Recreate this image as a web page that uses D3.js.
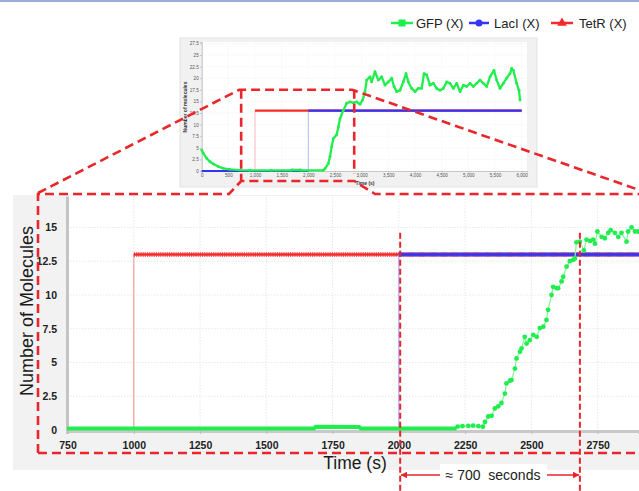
<!DOCTYPE html>
<html>
<head>
<meta charset="utf-8">
<script src="https://cdn.jsdelivr.net/npm/d3@7"></script>
<style>
  body { margin: 0; background: #fff; }
  svg { display: block; font-family: Arial, "Liberation Sans", sans-serif; }
</style>
</head>
<body>
<svg id="chart" width="639" height="491"></svg>
<script>
"use strict";

// ---- data ----
const seriesNames  = ["GFP (X)", "LacI (X)", "TetR (X)"];
const seriesColors = ["#1fee4c", "#3434f6", "#f62a2a"];

const tetrSteps = [[0, 0], [1000, 0], [1000, 13], [6000, 13]];
const laciSteps = [[0, 0], [2000, 0], [2000, 13], [6000, 13]];

// whole run, 0..6000 s (small inset)
const gfpFull = [[0,4.5],[30,3.8],[95,2.7],[155,2.0],[220,1.5],[310,0.95],[405,0.57],[530,0.36],[720,0.2],
  [900,0.15],[1300,0.15],[1680,0.15],[1700,0.25],[1850,0.22],[1870,0.15],[2280,0.15],[2312,0.5],[2375,1.6],
  [2406,3.1],[2437,5.2],[2469,7.0],[2531,7.8],[2562,9.5],[2594,11.3],[2656,13.1],[2719,14.6],[2781,14.9],
  [2844,14.7],[2906,14.9],[2969,14.4],[3019,15.3],[3062,17.1],[3094,19.6],[3156,20.3],[3187,19.2],[3250,21.4],
  [3312,19.6],[3375,20.3],[3437,18.5],[3500,19.2],[3562,20.0],[3606,18.2],[3656,17.1],[3719,17.4],[3781,19.2],
  [3831,21.0],[3875,19.2],[3937,17.8],[4000,17.1],[4062,17.8],[4125,17.8],[4169,21.0],[4219,20.7],[4281,18.5],
  [4344,18.9],[4406,17.8],[4469,17.4],[4531,17.8],[4594,19.2],[4656,18.9],[4719,17.8],[4781,18.9],[4844,17.1],
  [4906,18.5],[4969,18.2],[5031,18.9],[5094,18.2],[5156,18.9],[5219,19.6],[5281,18.9],[5344,18.2],[5406,20.3],
  [5481,21.7],[5531,19.6],[5594,17.8],[5656,18.9],[5719,20.0],[5781,21.0],[5812,22.1],[5844,21.7],[5906,18.9],
  [5950,17.4],[5969,15.3]];

// zoomed window: flat baseline, then the rise
const gfpZoomBase = [[740,0.12],[1680,0.12],[1686,0.24],[1850,0.22],[1856,0.12],[2218,0.12]];
const gfpZoomRise = [[2222,0.25],[2240,0.28],[2262,0.3],[2280,0.32],[2300,0.28],[2317,0.24],[2325,0.6],
  [2337,1.0],[2350,1.05],[2362,1.6],[2375,1.75],[2387,2.0],[2400,2.7],[2406,3.45],[2419,3.65],[2425,3.7],
  [2438,4.55],[2444,5.3],[2457,5.8],[2463,6.05],[2475,6.9],[2482,6.4],[2494,6.65],[2507,7.05],[2520,6.9],
  [2532,7.55],[2545,7.65],[2557,8.15],[2563,8.9],[2576,10.0],[2582,10.6],[2595,10.5],[2601,10.5],[2614,11.0],
  [2620,11.35],[2633,12.1],[2645,12.5],[2658,12.6],[2664,12.7],[2670,13.9],[2683,13.95],[2698,13.3],[2708,14.1],
  [2721,14.0],[2733,14.1],[2740,13.8],[2749,14.7],[2765,14.3],[2777,14.2],[2790,14.6],[2799,14.8],[2815,14.6],
  [2828,14.3],[2840,14.6],[2859,13.95],[2865,14.7],[2878,15.0],[2891,14.7],[2903,14.7]];

const zoomTicksX = [750, 1000, 1250, 1500, 1750, 2000, 2250, 2500, 2750];
const zoomTicksY = [0, 2.5, 5, 7.5, 10, 12.5, 15];
const fullTicksX = [0, 500, 1000, 1500, 2000, 2500, 3000, 3500, 4000, 4500, 5000, 5500, 6000];
const fullTicksY = [0, 2.5, 5, 7.5, 10, 12.5, 15, 17.5, 20, 22.5, 25, 27.5];
const delayMarks = [2005, 2683];
const delayLabel = "\u2248 700  seconds";

const svg = d3.select("#chart");
const [cGfp, cLac, cTet] = seriesColors;
const dashRed = "#e8262c";
const plain = d => String(d);

// top rule
svg.append("line").attr("x1", 0).attr("x2", 639).attr("y1", 1).attr("y2", 1)
  .attr("stroke", "#7d90c8").attr("stroke-width", 1.6);

// ---- legend ----
const leg = svg.append("g").attr("font-size", 13).attr("fill", "#222");
const legItems = [
  {x: 391, w: 22, tx: 416, shape: "square"},
  {x: 469, w: 20, tx: 494, shape: "circle"},
  {x: 551, w: 22, tx: 579, shape: "triangle"}
];
legItems.forEach((it, i) => {
  const cy = 23, col = seriesColors[i], cx = it.x + it.w / 2;
  leg.append("line").attr("x1", it.x).attr("x2", it.x + it.w).attr("y1", cy).attr("y2", cy)
    .attr("stroke", col).attr("stroke-width", 2.5);
  if (it.shape === "square")
    leg.append("rect").attr("x", cx - 3.5).attr("y", cy - 3.5).attr("width", 7).attr("height", 7).attr("fill", col);
  else if (it.shape === "circle")
    leg.append("circle").attr("cx", cx).attr("cy", cy).attr("r", 3.5).attr("fill", col);
  else
    leg.append("path").attr("d", d3.symbol(d3.symbolTriangle, 40)()).attr("transform", `translate(${cx},${cy})`).attr("fill", col);
  leg.append("text").attr("x", it.tx).attr("y", cy + 5).text(seriesNames[i]);
});

// ---- inset: full run ----
const xF = d3.scaleLinear().domain([0, 6100]).range([201.7, 527]);
const yF = d3.scaleLinear().domain([0, 27.8]).range([171, 42]);

svg.append("rect").attr("x", 180).attr("y", 38).attr("width", 357).attr("height", 149)
  .attr("fill", "#f1f1f1").attr("stroke", "#e2e2e2");
svg.append("rect").attr("x", 201.7).attr("y", 42).attr("width", 325.3).attr("height", 129).attr("fill", "#fff");

const inset = svg.append("g");
inset.append("g").selectAll("line").data(fullTicksY.slice(1)).join("line")
  .attr("x1", 201.7).attr("x2", 527).attr("y1", d => yF(d)).attr("y2", d => yF(d))
  .attr("stroke", "#ececec").attr("stroke-width", 0.6).attr("stroke-dasharray", "1,1");
inset.append("g").selectAll("line").data(fullTicksX.slice(1)).join("line")
  .attr("x1", d => xF(d)).attr("x2", d => xF(d)).attr("y1", 42).attr("y2", 171)
  .attr("stroke", "#ececec").attr("stroke-width", 0.6).attr("stroke-dasharray", "1,1");

const axF = inset.append("g").attr("transform", "translate(0,171)")
  .call(d3.axisBottom(xF).tickValues(fullTicksX).tickFormat(d3.format(",")).tickSize(1.5).tickPadding(1.5));
const ayF = inset.append("g").attr("transform", "translate(201.7,0)")
  .call(d3.axisLeft(yF).tickValues(fullTicksY).tickFormat(plain).tickSize(1.5).tickPadding(1.5));
[axF, ayF].forEach(a => {
  a.select(".domain").attr("stroke", "#c6c6c6").attr("stroke-width", 1.2);
  a.selectAll(".tick line").attr("stroke", "#bbb");
  a.selectAll("text").attr("font-size", 4.6).attr("fill", "#555").attr("font-family", "Arial");
});
inset.append("text").attr("x", 365).attr("y", 184.5).attr("text-anchor", "middle")
  .attr("font-size", 5).attr("font-weight", "bold").attr("fill", "#333").text("Time (s)");
inset.append("text").attr("transform", "translate(187,107) rotate(-90)").attr("text-anchor", "middle")
  .attr("font-size", 5).attr("font-weight", "bold").attr("fill", "#333").text("Number of molecules");

const lineF = d3.line().x(d => xF(d[0])).y(d => yF(d[1]));
// faint step risers
[[tetrSteps, "#f7a9a9"], [laciSteps, "#aaaaf4"]].forEach(([s, c]) => {
  inset.append("path").attr("d", lineF(s.slice(1, 3))).attr("stroke", c).attr("stroke-width", 0.8).attr("fill", "none");
});
inset.append("path").attr("d", lineF(tetrSteps.slice(2))).attr("stroke", cTet).attr("stroke-width", 2.2).attr("fill", "none");
inset.append("path").attr("d", lineF(laciSteps.slice(0, 2))).attr("stroke", cLac).attr("stroke-width", 2.2).attr("fill", "none");
inset.append("path").attr("d", lineF(laciSteps.slice(2))).attr("stroke", cLac).attr("stroke-width", 2.2).attr("fill", "none");
inset.append("path").attr("d", lineF(gfpFull)).attr("stroke", cGfp).attr("stroke-width", 2.3).attr("fill", "none")
  .attr("stroke-linejoin", "round");
inset.append("g").selectAll("circle").data(gfpFull).join("circle")
  .attr("cx", d => xF(d[0])).attr("cy", d => yF(d[1])).attr("r", 1.4).attr("fill", cGfp);

// ---- main: zoomed window ----
const xZ = d3.scaleLinear().domain([748, 2906]).range([67, 639]);
const yZ = d3.scaleLinear().domain([0, 17.33]).range([430, 196]);

svg.append("rect").attr("x", 13).attr("y", 195).attr("width", 626).attr("height", 275).attr("fill", "#f2f2f2");
svg.append("rect").attr("x", 67).attr("y", 196).attr("width", 572).attr("height", 234).attr("fill", "#fff");
svg.append("clipPath").attr("id", "clipZ").append("rect").attr("x", 67).attr("y", 190).attr("width", 572).attr("height", 242);

const main = svg.append("g");
main.append("g").selectAll("line").data(zoomTicksY.slice(1)).join("line")
  .attr("x1", 67).attr("x2", 639).attr("y1", d => yZ(d)).attr("y2", d => yZ(d))
  .attr("stroke", "#e8e8e8").attr("stroke-dasharray", "1.5,1.5");
main.append("g").selectAll("line").data(zoomTicksX.slice(1)).join("line")
  .attr("x1", d => xZ(d)).attr("x2", d => xZ(d)).attr("y1", 196).attr("y2", 430)
  .attr("stroke", "#e8e8e8").attr("stroke-dasharray", "1.5,1.5");

const axZ = main.append("g").attr("transform", "translate(0,431)")
  .call(d3.axisBottom(xZ).tickValues(zoomTicksX).tickFormat(plain).tickSize(3).tickPadding(8));
const ayZ = main.append("g").attr("transform", "translate(67,0)")
  .call(d3.axisLeft(yZ).tickValues(zoomTicksY).tickFormat(plain).tickSize(0).tickPadding(10));
axZ.select(".domain").attr("stroke", "#c9c9c9").attr("stroke-width", 3);
ayZ.select(".domain").attr("stroke", "#c4c4c4").attr("stroke-width", 3);
[axZ, ayZ].forEach(a => {
  a.selectAll(".tick line").attr("stroke", "#bbb");
  a.selectAll("text").attr("font-size", 10.5).attr("font-weight", "bold").attr("fill", "#222").attr("font-family", "Arial");
});

main.append("text").attr("x", 355).attr("y", 469).attr("text-anchor", "middle")
  .attr("font-size", 17.5).attr("fill", "#1a1a1a").text("Time (s)");
main.append("text").attr("transform", "translate(33,311) rotate(-90)").attr("text-anchor", "middle")
  .attr("font-size", 18).attr("fill", "#1a1a1a").text("Number of Molecules");

const plot = main.append("g").attr("clip-path", "url(#clipZ)");
const lineZ = d3.line().x(d => xZ(d[0])).y(d => yZ(d[1]));

// TetR then LacI: faint riser + dense marker band on the high level
[[tetrSteps, cTet, "#f7a3a3"], [laciSteps, cLac, "#a9a9f6"]].forEach(([s, c, faint]) => {
  plot.append("path").attr("d", lineZ(s.slice(1, 3))).attr("stroke", faint).attr("stroke-width", 1.3).attr("fill", "none");
  plot.append("path").attr("d", lineZ(s.slice(2))).attr("stroke", c).attr("stroke-width", 2.6).attr("fill", "none");
  plot.append("path").attr("d", lineZ(s.slice(2))).attr("stroke", c).attr("stroke-width", 5)
    .attr("stroke-dasharray", "1.2,1").attr("opacity", 0.7).attr("fill", "none");
});

// GFP
plot.append("path").attr("d", lineZ(gfpZoomBase)).attr("stroke", cGfp).attr("stroke-width", 4).attr("fill", "none");
plot.append("path").attr("d", lineZ([gfpZoomBase[gfpZoomBase.length - 1], ...gfpZoomRise]))
  .attr("stroke", "#7ef59a").attr("stroke-width", 1.2).attr("fill", "none");
plot.append("g").selectAll("circle").data(gfpZoomRise).join("circle")
  .attr("cx", d => xZ(d[0])).attr("cy", d => yZ(d[1])).attr("r", 2.4).attr("fill", cGfp);

// ---- red dashed zoom callout ----
const ann = svg.append("g").attr("fill", "none").attr("stroke", dashRed).attr("stroke-width", 2.6)
  .attr("stroke-dasharray", "9,5");
const xL = xF(740), xR = xF(2860), yTop = yF(17.5);
ann.append("path").attr("d", `M38,453 L38,194 L229,194 L${xL},181 L${xR},181 L375,194 L645,194`);
ann.append("path").attr("d", "M38,453 L645,453");
ann.append("path").attr("d", `M38,193 L${xL - 2},${yTop} L${xR - 2},${yTop} L645,192`);
ann.append("path").attr("d", `M${xL},${yTop} L${xL},181`);
ann.append("path").attr("d", `M${xR},${yTop} L${xR},174`);
delayMarks.forEach(t => {
  ann.append("line").attr("x1", xZ(t)).attr("x2", xZ(t)).attr("y1", yZ(14.6)).attr("y2", 491)
    .attr("stroke-width", 2).attr("stroke-dasharray", "6,3");
});

// ---- delay arrow ----
const defs = svg.append("defs");
["s", "e"].forEach(k => {
  defs.append("marker").attr("id", "arr" + k).attr("viewBox", "0 0 10 10").attr("refX", 9).attr("refY", 5)
    .attr("markerWidth", 7).attr("markerHeight", 7).attr("markerUnits", "userSpaceOnUse")
    .attr("orient", k === "s" ? "auto-start-reverse" : "auto")
    .append("path").attr("d", "M0,0 L10,5 L0,10 z").attr("fill", "#e8262c");
});
svg.append("line").attr("x1", xZ(delayMarks[0]) + 1).attr("x2", xZ(delayMarks[1]) - 1).attr("y1", 475).attr("y2", 475)
  .attr("stroke", "#e8262c").attr("stroke-width", 1.6)
  .attr("marker-start", "url(#arrs)").attr("marker-end", "url(#arre)");
svg.append("rect").attr("x", 440).attr("y", 464).attr("width", 107).attr("height", 21).attr("fill", "#fff");
svg.append("text").attr("x", 493).attr("y", 480).attr("text-anchor", "middle").attr("font-size", 14)
  .attr("fill", "#222").attr("xml:space", "preserve").text(delayLabel);
</script>
</body>
</html>
